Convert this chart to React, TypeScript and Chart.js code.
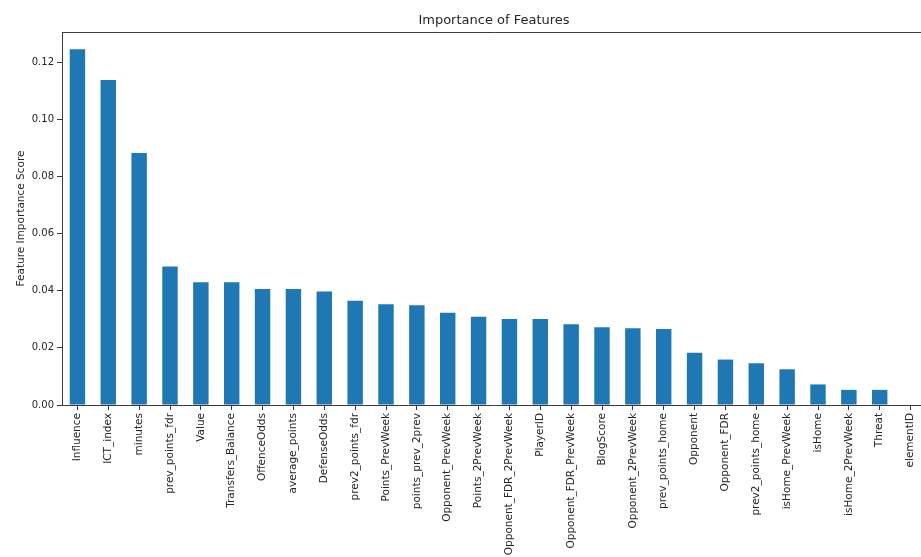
import React, { useEffect, useRef } from "react";
import { Chart, registerables } from "chart.js";

Chart.register(...registerables);

const features: string[] = [
  "Influence", "ICT_index", "minutes", "prev_points_fdr", "Value", "Transfers_Balance",
  "OffenceOdds", "average_points", "DefenseOdds", "prev2_points_fdr", "Points_PrevWeek",
  "points_prev_2prev", "Opponent_PrevWeek", "Points_2PrevWeek", "Opponent_FDR_2PrevWeek",
  "PlayerID", "Opponent_FDR_PrevWeek", "BlogScore", "Opponent_2PrevWeek", "prev_points_home",
  "Opponent", "Opponent_FDR", "prev2_points_home", "isHome_PrevWeek", "isHome",
  "isHome_2PrevWeek", "Threat", "elementID",
];

const importance: number[] = [
  0.1246, 0.1138, 0.0882, 0.0485, 0.0430, 0.0430,
  0.0406, 0.0406, 0.0397, 0.0365, 0.0353,
  0.0349, 0.0323, 0.0309, 0.0301,
  0.0301, 0.0283, 0.0272, 0.0269, 0.0266,
  0.0183, 0.0159, 0.0146, 0.0125, 0.0072,
  0.0053, 0.0053, 0.0,
];

const yTicks: number[] = [0, 0.02, 0.04, 0.06, 0.08, 0.1, 0.12];
const yMax = 0.1306;

const W = 940;
const H = 557;

export default function App() {
  const ref = useRef<HTMLCanvasElement | null>(null);

  useEffect(() => {
    if (!ref.current) return;
    const text = "#262626";
    const axisColor = "#3a3a3a";
    const chart = new Chart(ref.current, {
      type: "bar",
      data: {
        labels: features,
        datasets: [
          {
            data: importance,
            backgroundColor: "#1f77b4",
            barPercentage: 0.5,
            categoryPercentage: 1.0,
          },
        ],
      },
      options: {
        responsive: false,
        animation: false,
        devicePixelRatio: window.devicePixelRatio || 1,
        layout: { padding: { left: 0, right: W - 926, top: 0, bottom: 0 } },
        font: { family: "'DejaVu Sans', sans-serif" },
        plugins: {
          legend: { display: false },
          tooltip: { enabled: false },
          title: {
            display: true,
            text: "Importance of Features",
            fullSize: false,
            color: text,
            font: { family: "'DejaVu Sans', sans-serif", size: 13, weight: "normal", lineHeight: 1.2 },
            padding: { top: 13, bottom: 3.4 },
          },
        },
        scales: {
          x: {
            type: "category",
            position: "bottom",
            offset: true,
            grid: {
              display: true,
              drawOnChartArea: false,
              drawTicks: true,
              tickLength: 5,
              tickColor: axisColor,
              offset: false,
            },
            border: { display: true, color: axisColor, width: 1 },
            ticks: {
              autoSkip: false,
              maxRotation: 90,
              minRotation: 90,
              padding: 3,
              color: text,
              font: { family: "'DejaVu Sans', sans-serif", size: 10.5 },
            },
            afterFit: (scale: any) => {
              scale.height = H - 405;
            },
          },
          x2: {
            type: "category",
            position: "top",
            display: true,
            grid: { display: false, drawTicks: false },
            ticks: { display: false },
            border: { display: true, color: axisColor, width: 1 },
            afterFit: (scale: any) => {
              scale.height = 0;
            },
          },
          y: {
            type: "linear",
            position: "left",
            min: 0,
            max: yMax,
            afterBuildTicks: (scale: any) => {
              scale.ticks = yTicks.map((v) => ({ value: v }));
            },
            grid: {
              display: true,
              drawOnChartArea: false,
              drawTicks: true,
              tickLength: 5,
              tickColor: axisColor,
            },
            border: { display: true, color: axisColor, width: 1 },
            ticks: {
              padding: 3,
              color: text,
              font: { family: "'DejaVu Sans', sans-serif", size: 10 },
              callback: (v: any) => Number(v).toFixed(2),
            },
            title: {
              display: true,
              text: "Feature Importance Score",
              color: text,
              font: { family: "'DejaVu Sans', sans-serif", size: 10.5, lineHeight: 1.2 },
              padding: { top: 14.7, bottom: 0 },
            },
            afterFit: (scale: any) => {
              scale.width = 62;
            },
          },
        },
      },
    });
    return () => chart.destroy();
  }, []);

  return (
    <div
      style={{
        position: "fixed",
        left: 0,
        top: 0,
        width: 921,
        height: 557,
        overflow: "hidden",
        background: "#ffffff",
      }}
    >
      <canvas ref={ref} width={W} height={H} style={{ display: "block", width: W, height: H }} />
    </div>
  );
}
